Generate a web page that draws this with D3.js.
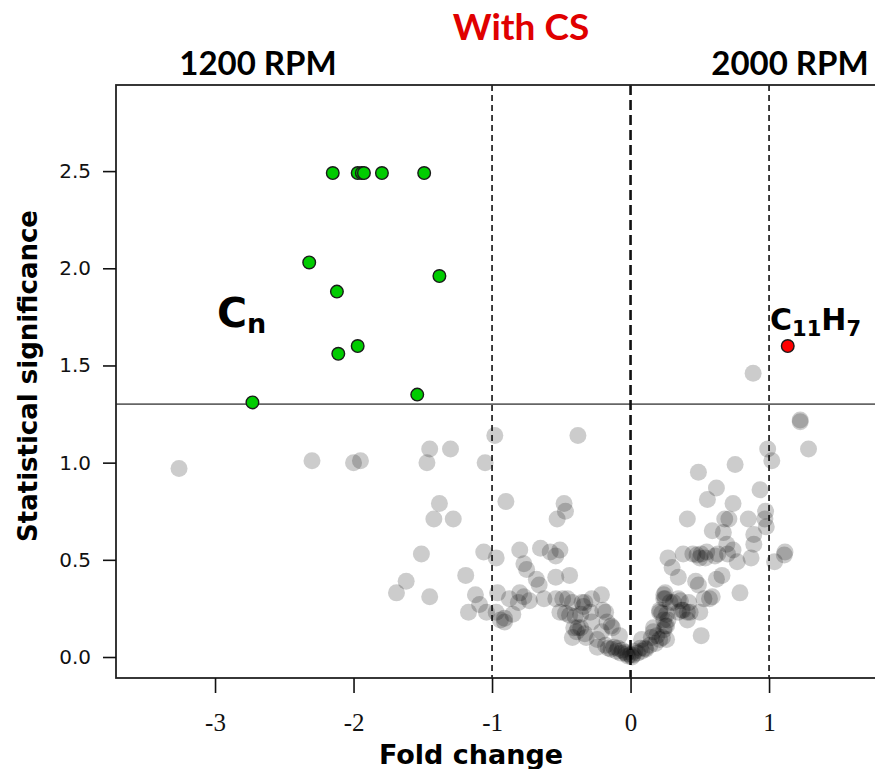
<!DOCTYPE html>
<html>
<head>
<meta charset="utf-8">
<script src="https://cdn.jsdelivr.net/npm/d3@7"></script>
<style>
    body { margin: 0; background: #fff; }
    svg { display: block; }
</style>
</head>
<body>
<svg id="volcano-svg" width="875" height="769"></svg>
<script>
// Non significant compounds [fold change, significance]
const grayPoints = [
    [-3.26, 0.97], [-2.30, 1.01], [-2.00, 1.00], [-1.95, 1.01], [-1.45, 1.07], [-1.30, 1.07],
    [-1.47, 1.00], [-1.05, 1.00], [-0.98, 1.14], [-1.38, 0.79], [-1.42, 0.71], [-1.28, 0.71],
    [-1.51, 0.53], [-1.06, 0.54], [-0.97, 0.51], [-1.19, 0.42], [-1.62, 0.39], [-1.69, 0.33],
    [-1.45, 0.31], [-1.12, 0.32], [-1.09, 0.27], [-1.17, 0.23], [-1.04, 0.23], [-0.96, 0.33],
    [-0.97, 0.23], [-0.94, 0.19], [-0.38, 1.14], [-0.90, 0.80], [-0.48, 0.79], [-0.47, 0.75],
    [-0.53, 0.71], [-0.80, 0.55], [-0.65, 0.56], [-0.58, 0.54], [-0.54, 0.52], [-0.51, 0.55],
    [-0.77, 0.48], [-0.75, 0.45], [-0.54, 0.41], [-0.44, 0.42], [-0.68, 0.40], [-0.66, 0.37],
    [-0.875, 0.30], [-0.80, 0.33], [-0.77, 0.31], [-0.81, 0.28], [-0.73, 0.29], [-0.625, 0.30],
    [-0.54, 0.30], [-0.49, 0.30], [-0.455, 0.30], [-0.91, 0.20], [-0.91, 0.18], [-0.85, 0.22],
    [-0.51, 0.23], [-0.47, 0.225], [-0.44, 0.215], [-0.41, 0.15], [-0.42, 0.10], [-0.39, 0.13],
    [-0.42, 0.28], [-0.40, 0.21], [-0.35, 0.28], [-0.33, 0.28], [-0.28, 0.30], [-0.21, 0.32],
    [-0.36, 0.22], [-0.29, 0.23], [-0.20, 0.24], [-0.18, 0.23], [-0.28, 0.18], [-0.17, 0.18],
    [-0.14, 0.16], [-0.38, 0.15], [-0.33, 0.12], [-0.32, 0.10], [-0.21, 0.13], [-0.08, 0.11],
    [-0.24, 0.05], [-0.18, 0.06], [-0.16, 0.045], [-0.12, 0.05], [-0.09, 0.045], [-0.06, 0.035],
    [-0.04, 0.025], [0.00, 0.01], [-0.34, 0.26], [-0.36, 0.15], [-0.24, 0.09], [-0.13, 0.15],
    [-0.02, 0.005], [0.01, 0.00], [-0.07, 0.02], [-0.10, 0.03], [0.05, 0.02], [0.08, 0.03],
    [0.11, 0.04], [-0.14, 0.04], [-0.03, 0.015], [0.02, 0.01],
    [0.03, 0.03], [0.07, 0.045], [0.105, 0.045], [0.14, 0.06], [0.08, 0.09], [0.15, 0.10],
    [0.165, 0.13], [0.19, 0.11], [0.21, 0.09], [0.18, 0.07], [0.24, 0.14], [0.26, 0.16],
    [0.26, 0.09], [0.23, 0.10], [0.21, 0.23], [0.24, 0.19], [0.26, 0.22], [0.24, 0.32],
    [0.25, 0.33], [0.24, 0.30], [0.25, 0.30], [0.21, 0.24], [0.225, 0.225], [0.345, 0.30],
    [0.37, 0.24], [0.41, 0.23], [0.345, 0.23], [0.285, 0.28], [0.31, 0.28], [0.36, 0.29],
    [0.42, 0.28], [0.38, 0.24], [0.43, 0.23], [0.50, 0.23], [0.41, 0.19], [0.27, 0.19],
    [0.25, 0.16], [0.165, 0.15], [0.51, 0.11], [0.53, 0.30], [0.57, 0.30], [0.59, 0.31],
    [0.47, 0.39], [0.49, 0.37], [0.345, 0.41], [0.30, 0.46], [0.27, 0.51], [0.38, 0.53],
    [0.45, 0.53], [0.48, 0.525], [0.51, 0.53], [0.50, 0.51], [0.55, 0.54], [0.54, 0.51],
    [0.61, 0.52], [0.63, 0.53], [0.695, 0.58], [0.70, 0.53], [0.74, 0.55], [0.77, 0.49],
    [0.87, 0.51], [0.89, 0.58], [0.89, 0.63], [0.59, 0.65], [0.67, 0.64], [0.68, 0.71],
    [0.71, 0.71], [0.85, 0.71], [0.41, 0.71], [0.74, 0.79], [0.555, 0.81], [0.62, 0.87],
    [0.49, 0.95], [0.755, 0.99], [0.935, 0.86], [0.975, 0.75], [0.97, 0.71], [0.98, 0.67],
    [0.99, 1.07], [1.02, 1.01], [1.04, 0.49], [1.11, 0.525], [1.115, 0.54], [1.225, 1.22],
    [1.225, 1.21], [1.285, 1.07], [0.79, 0.33], [0.62, 0.40], [0.66, 0.42], [0.885, 1.46]
];

// Significant at 1200 RPM (Cn)
const greenPoints = [
    [-2.15, 2.49], [-1.97, 2.49], [-1.94, 2.49], [-1.925, 2.49], [-1.795, 2.49], [-1.49, 2.49],
    [-2.32, 2.03], [-2.12, 1.88], [-1.38, 1.96], [-1.97, 1.60], [-2.11, 1.56], [-1.54, 1.35],
    [-2.73, 1.31]
];

// Significant at 2000 RPM (C11H7)
const redPoints = [[1.135, 1.60]];

const xTicks = [-3, -2, -1, 0, 1];
const yTicks = [0.0, 0.5, 1.0, 1.5, 2.0, 2.5];
const foldLines = [-1, 0, 1];
const sigThreshold = 1.301;

const svg = d3.select('#volcano-svg');

let x = d3.scaleLinear().domain([-3.715, 1.77]).range([116, 875.7]);
let y = d3.scaleLinear().domain([-0.108, 2.943]).range([678, 85]);

// Titles
svg.append('text')
    .attr('x', 521).attr('y', 40)
    .attr('text-anchor', 'middle')
    .style('font', '700 37px Lato')
    .attr('fill', '#e00000')
    .text('With CS');

svg.append('text')
    .attr('x', 258).attr('y', 75)
    .attr('text-anchor', 'middle')
    .style('font', '700 33px Lato')
    .text('1200 RPM');

svg.append('text')
    .attr('x', 790).attr('y', 75)
    .attr('text-anchor', 'middle')
    .style('font', '700 33px Lato')
    .text('2000 RPM');

// Threshold and fold change guide lines
svg.append('line')
    .attr('x1', x.range()[0]).attr('x2', 880)
    .attr('y1', y(sigThreshold)).attr('y2', y(sigThreshold))
    .attr('stroke', '#666')
    .attr('stroke-width', 1.8);

svg.append('g')
    .selectAll('line')
    .data(foldLines)
    .join('line')
    .attr('x1', d => x(d)).attr('x2', d => x(d))
    .attr('y1', y.range()[1]).attr('y2', y.range()[0])
    .attr('stroke', '#111')
    .attr('stroke-width', d => d === 0 ? 2.6 : 1.6)
    .attr('stroke-dasharray', d => d === 0 ? '10,5' : '6,4');

// Points
svg.append('g')
    .selectAll('circle')
    .data(grayPoints)
    .join('circle')
    .attr('cx', d => x(d[0]))
    .attr('cy', d => y(d[1]))
    .attr('r', 8.5)
    .attr('fill', '#000')
    .attr('fill-opacity', 0.2);

svg.append('g')
    .selectAll('circle')
    .data(greenPoints)
    .join('circle')
    .attr('cx', d => x(d[0]))
    .attr('cy', d => y(d[1]))
    .attr('r', 6.3)
    .attr('fill', '#00cc00')
    .attr('stroke', '#1a1a1a')
    .attr('stroke-width', 1.4);

svg.append('g')
    .selectAll('circle')
    .data(redPoints)
    .join('circle')
    .attr('cx', d => x(d[0]))
    .attr('cy', d => y(d[1]))
    .attr('r', 6.3)
    .attr('fill', '#ff0000')
    .attr('stroke', '#1a1a1a')
    .attr('stroke-width', 1.4);

// Frame
svg.append('rect')
    .attr('x', x.range()[0]).attr('y', y.range()[1])
    .attr('width', 880 - x.range()[0])
    .attr('height', y.range()[0] - y.range()[1])
    .attr('fill', 'none')
    .attr('stroke', '#222')
    .attr('stroke-width', 1.8);

// Axes (plain hyphen for negatives, like the original)
const xAxis = svg.append('g')
    .attr('transform', 'translate(0,' + y.range()[0] + ')')
    .call(d3.axisBottom(x).tickValues(xTicks).tickSize(15).tickPadding(20).tickFormat(d => String(d)));
xAxis.select('.domain').remove();
xAxis.selectAll('line').attr('stroke', '#111').attr('stroke-width', 1.6);
xAxis.selectAll('text')
    .style('font', '25px "Liberation Sans Narrow"')
    .attr('fill', '#111');

const yAxis = svg.append('g')
    .attr('transform', 'translate(' + x.range()[0] + ',0)')
    .call(d3.axisLeft(y).tickValues(yTicks).tickSize(13).tickPadding(12).tickFormat(d => d.toFixed(1)));
yAxis.select('.domain').remove();
yAxis.selectAll('line').attr('stroke', '#111').attr('stroke-width', 1.6);
yAxis.selectAll('text')
    .style('font', '20px "DejaVu Sans"')
    .attr('fill', '#111');

// Axis labels
svg.append('text')
    .attr('x', 471).attr('y', 764)
    .attr('text-anchor', 'middle')
    .style('font', 'bold 27px "DejaVu Sans"')
    .text('Fold change');

svg.append('text')
    .attr('transform', 'translate(37,376) rotate(-90)')
    .attr('text-anchor', 'middle')
    .style('font', 'bold 26px "DejaVu Sans"')
    .text('Statistical significance');

// Annotations
let cn = svg.append('text')
    .attr('x', 217).attr('y', 327)
    .style('font', 'bold 41px "DejaVu Sans"');
cn.append('tspan').text('C');
cn.append('tspan').attr('dy', 6).style('font-size', '27px').text('n');

let c11 = svg.append('text')
    .attr('x', 770).attr('y', 330)
    .style('font', 'bold 30px "DejaVu Sans"');
c11.append('tspan').text('C');
c11.append('tspan').attr('dy', 6).style('font-size', '21px').text('11');
c11.append('tspan').attr('dy', -6).text('H');
c11.append('tspan').attr('dy', 6).style('font-size', '21px').text('7');
</script>
</body>
</html>
